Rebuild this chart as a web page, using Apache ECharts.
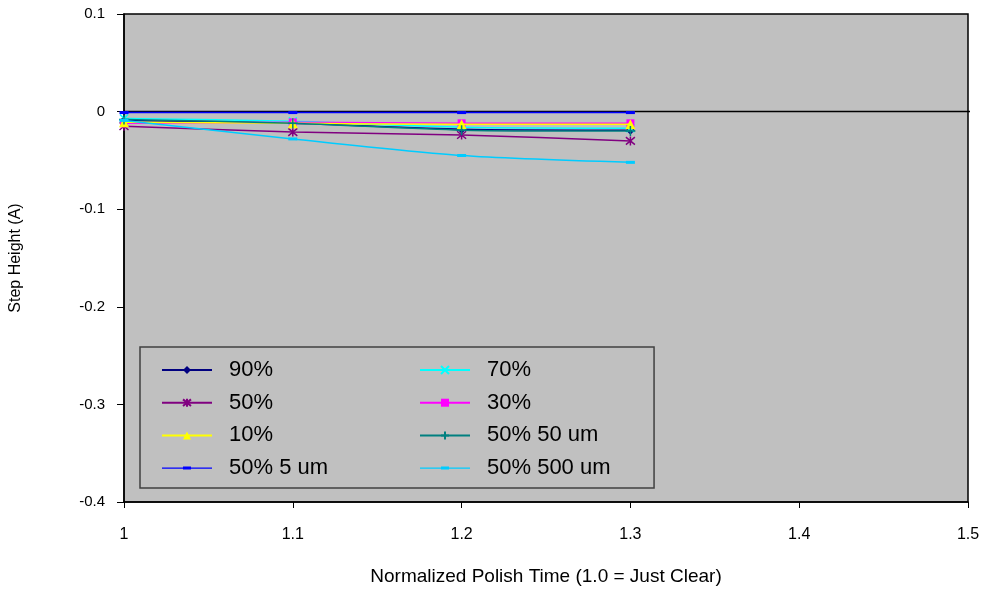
<!DOCTYPE html>
<html><head><meta charset="utf-8">
<script src="https://cdn.jsdelivr.net/npm/echarts@6/dist/echarts.min.js"></script>
<style>html,body{margin:0;padding:0;background:#fff}#c{width:987px;height:591px}</style>
</head><body><div id="c"></div>
<script>
var xValues = [1, 1.1, 1.2, 1.3];
var xTickLabels = ['1', '1.1', '1.2', '1.3', '1.4', '1.5'];
var yTickLabels = ['-0.4', '-0.3', '-0.2', '-0.1', '0', '0.1'];
var seriesNames = ['90%', '70%', '50%', '30%', '10%', '50% 50 um', '50% 5 um', '50% 500 um'];
var legendCol1 = ['90%', '50%', '10%', '50% 5 um'];
var legendCol2 = ['70%', '30%', '50% 50 um', '50% 500 um'];
var s90 = [-0.009, -0.012, -0.018, -0.019];
var s70 = [-0.007, -0.010, -0.016, -0.017];
var s50 = [-0.015, -0.021, -0.024, -0.030];
var s30 = [-0.012, -0.011, -0.012, -0.012];
var s10 = [-0.011, -0.012, -0.013, -0.013];
var s50_50 = [-0.008, -0.012, -0.019, -0.020];
var s50_5 = [-0.001, -0.001, -0.001, -0.001];
var s50_500 = [-0.009, -0.028, -0.045, -0.052];
// horizontal axis crosses the value axis at 0 (runs slightly past the plot edge)
var zeroLineX = [1, 1.505];
var zeroLineY = [0, 0];

var FONT = 'Arial, "Liberation Sans", sans-serif';
function pairs(xs, v){ return xs.map(function(x,i){ return [x, v[i]]; }); }
var DASH_ICON = 'path://M0,4.3L50,4.3L50,5.7L0,5.7Z M21,3.5L29,3.5L29,6.5L21,6.5Z';
var styles = [
  {c:'#000080', sym:'diamond', size:9},
  {c:'#00FFFF', sym:'path://M0,0L10,10M10,0L0,10', size:8, stroke:true},
  {c:'#800080', sym:'path://M0,0L10,10M10,0L0,10M5,-1L5,11', size:9, stroke:true},
  {c:'#FF00FF', sym:'rect', size:8},
  {c:'#FFFF00', sym:'triangle', size:10},
  {c:'#008080', sym:'path://M5,0L5,10M0,5L10,5', size:10, stroke:true},
  {c:'#0000FF', sym:'rect', size:[9,3]},
  {c:'#00CCFF', sym:'rect', size:[9,3]}
];
var dataList = [s90, s70, s50, s30, s10, s50_50, s50_5, s50_500];
var series = [{
  name:'zero', type:'line', data: pairs(zeroLineX, zeroLineY), symbol:'none', clip:false,
  lineStyle:{color:'#000', width:1.5}, silent:true, animation:false, z:1
}];
dataList.forEach(function(d, i){
  var st = styles[i];
  series.push({
    name: seriesNames[i], type:'line', data: pairs(xValues, d), smooth: 0.25,
    symbol: st.sym, symbolSize: st.size, showSymbol:true, clip:false,
    lineStyle:{color: st.c, width:1.5},
    itemStyle: st.stroke ? {color: st.c, borderColor: st.c, borderWidth:1.5} : {color: st.c, borderWidth:0},
    emphasis:{disabled:true}, animation:false, z: 2 + i*0.01
  });
});

function legendItems(names){
  return names.map(function(n){
    return (n === '50% 5 um' || n === '50% 500 um') ? {name:n, icon:DASH_ICON} : {name:n};
  });
}
var legendText = {fontFamily:FONT, fontSize:22, color:'#000', padding:[0,0,0,12]};
var chart = echarts.init(document.getElementById('c'), null, {renderer:'canvas'});
chart.setOption({
  animation:false,
  backgroundColor:'#fff',
  grid:{left:123, right:19, top:14, bottom:89, show:true, backgroundColor:'#C0C0C0', borderColor:'#000', borderWidth:1.5},
  xAxis:{type:'value', min:1, max:1.5, interval:0.1,
    name:'Normalized Polish Time (1.0 = Just Clear)', nameLocation:'middle', nameGap:65,
    nameTextStyle:{fontFamily:FONT, fontSize:19, color:'#000'},
    axisLine:{onZero:false, lineStyle:{color:'#000', width:1.5}},
    axisTick:{show:true, inside:false, length:6, lineStyle:{color:'#000'}},
    axisLabel:{fontFamily:FONT, fontSize:16, color:'#000', margin:25,
      formatter:function(v,idx){ return xTickLabels[idx]; }},
    splitLine:{show:false}},
  yAxis:{type:'value', min:-0.4, max:0.1, interval:0.1,
    name:'Step Height (A)', nameLocation:'middle', nameGap:100, nameRotate:90,
    nameTextStyle:{fontFamily:FONT, fontSize:16, color:'#000'},
    axisLine:{onZero:false, lineStyle:{color:'#000', width:1.5}},
    axisTick:{show:true, inside:false, length:7, lineStyle:{color:'#000'}},
    axisLabel:{fontFamily:FONT, fontSize:15, color:'#000', margin:19,
      formatter:function(v,idx){ return yTickLabels[idx]; }},
    splitLine:{show:false}},
  legend:[{
    data: legendItems(legendCol1), left:140, top:347, orient:'vertical',
    itemWidth:50, itemHeight:10, itemGap:10.7,
    padding:[12,326,9,21],
    backgroundColor:'#C0C0C0', borderColor:'#404040', borderWidth:1.5,
    selectedMode:false, textStyle:legendText, z:5
  },{
    data: legendItems(legendCol2), left:419, top:359, orient:'vertical',
    itemWidth:50, itemHeight:10, itemGap:10.7, padding:0,
    selectedMode:false, textStyle:legendText, z:6
  }],
  series: series
});
</script></body></html>
